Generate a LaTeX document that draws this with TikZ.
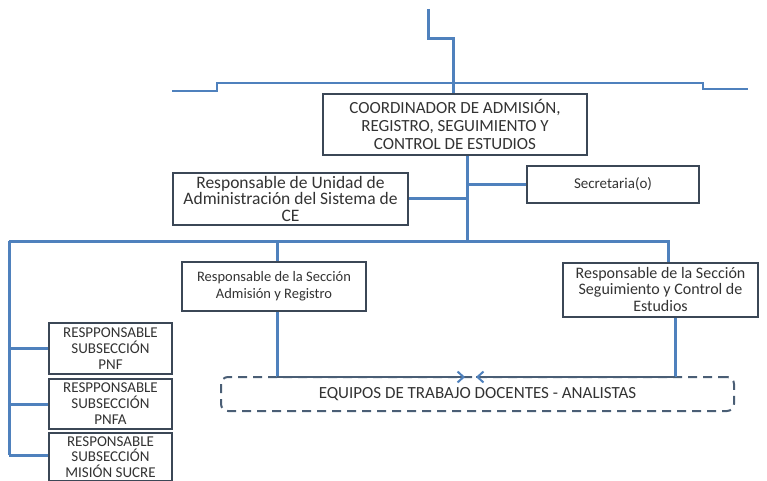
\documentclass[tikz,border=0pt]{standalone}
\usepackage{fontspec}
\setmainfont{Carlito}
\usetikzlibrary{arrows.meta}
\definecolor{lineblue}{HTML}{4F81BD}
\definecolor{boxedge}{HTML}{3B4756}
\definecolor{txt}{HTML}{333333}
\definecolor{dashc}{HTML}{4A5E75}
\newcommand{\fsz}[2]{\fontsize{#1}{#2}\selectfont}
\tikzset{
  conn/.style={draw=lineblue, line width=3pt},
  thinconn/.style={draw=lineblue, line width=2.4pt},
  orgbox/.style={draw=boxedge, line width=2pt, fill=white, text=txt, align=center, inner sep=0pt},
  teambox/.style={draw=dashc, line width=2pt, dash pattern=on 9pt off 6pt, rounded corners=7pt, text=txt, align=center, inner sep=0pt},
  dconn/.style={draw=dashc, line width=2pt, dash pattern=on 9pt off 6pt},
  tip/.style={-{Straight Barb[length=6pt,width=11pt,line width=2pt]}, draw=lineblue}
}
\begin{document}
\begin{tikzpicture}[x=1pt,y=-1pt]
\useasboundingbox (0,0) rectangle (767,481);
% nodes
\node[orgbox, minimum width=264pt, minimum height=61pt, font=\fsz{17}{18}] (coord) at (455,124.5)
  {COORDINADOR DE ADMISIÓN,\\REGISTRO, SEGUIMIENTO Y\\CONTROL DE ESTUDIOS};
\node[orgbox, minimum width=235pt, minimum height=52pt, font=\fsz{17.5}{16.5}] (unidad) at (290.5,198.5)
  {Responsable de Unidad de\\Administración del Sistema de\\CE};
\node[orgbox, minimum width=172pt, minimum height=37pt, font=\fsz{15}{16}] (secre) at (613,184.5)
  {Secretaria(o)};
\node[orgbox, minimum width=184pt, minimum height=49pt, font=\fsz{14.5}{17}] (admis) at (274,286.5)
  {Responsable de la Sección\\Admisión y Registro};
\node[orgbox, minimum width=195pt, minimum height=54pt, font=\fsz{16}{16.5}] (segui) at (660.5,289.5)
  {Responsable de la Sección\\Seguimiento y Control de\\Estudios};
\node[orgbox, minimum width=123pt, minimum height=51pt, font=\fsz{15}{16}] (pnf) at (110.5,348.5)
  {RESPPONSABLE\\SUBSECCIÓN\\PNF};
\node[orgbox, minimum width=123pt, minimum height=50pt, font=\fsz{15}{16}] (pnfa) at (110.5,404)
  {RESPPONSABLE\\SUBSECCIÓN\\PNFA};
\node[orgbox, minimum width=123pt, minimum height=48pt, font=\fsz{15}{15.5}] (sucre) at (110.5,457)
  {RESPONSABLE\\SUBSECCIÓN\\MISIÓN SUCRE};
\node[teambox, minimum width=513pt, minimum height=34pt, font=\fsz{17}{18}] (team) at (477.5,394)
  {EQUIPOS DE TRABAJO DOCENTES - ANALISTAS};
% coordinates
\coordinate (topin) at (428,9);
\coordinate (topk1) at (428,39);
\coordinate (topk2) at (453,39);
\coordinate (hl1) at (172,91);
\coordinate (hl2) at (217,91);
\coordinate (hl3) at (217,83);
\coordinate (hl4) at (703,83);
\coordinate (hl5) at (703,89);
\coordinate (hl6) at (748,89);
\coordinate (spine) at (467,241);
\coordinate (bl) at (9,241);
\coordinate (br) at (668,241);
\coordinate (ba) at (277,241);
\coordinate (lb) at (9,455);
\coordinate (ta) at (277,377);
\coordinate (tb) at (675,377);
\coordinate (tipa) at (465,377);
\coordinate (tipb) at (476,377);
% connectors
\draw[conn] (topin) -- (topk1) -- (topk2) -- (topk2 |- coord.north);
\draw[thinconn] (hl1) -- (hl2) -- (hl3) -- (hl4) -- (hl5) -- (hl6);
\draw[conn] (spine |- coord.south) -- (spine);
\draw[conn] (unidad.east) -- (unidad.east -| spine);
\draw[conn] (secre.west -| spine) -- (secre.west);
\draw[conn] (bl) -- (br) -- (segui.north -| br);
\draw[conn] (ba) -- (admis.north -| ba);
\draw[conn] (bl) -- (lb);
\draw[conn] (pnf.west -| bl) -- (pnf.west);
\draw[conn] (pnfa.west -| bl) -- (pnfa.west);
\draw[conn] (lb) -- (lb -| sucre.west);
\draw[conn] (admis.south -| ta) -- (ta);
\draw[conn] (segui.south -| tb) -- (tb);
\draw[dconn] (ta) -- (tipa);
\draw[dconn] (tb) -- (tipb);
\draw[tip, line width=2pt] ([xshift=-2pt]tipa) -- (tipa);
\draw[tip, line width=2pt] ([xshift=2pt]tipb) -- (tipb);
\end{tikzpicture}
\end{document}
